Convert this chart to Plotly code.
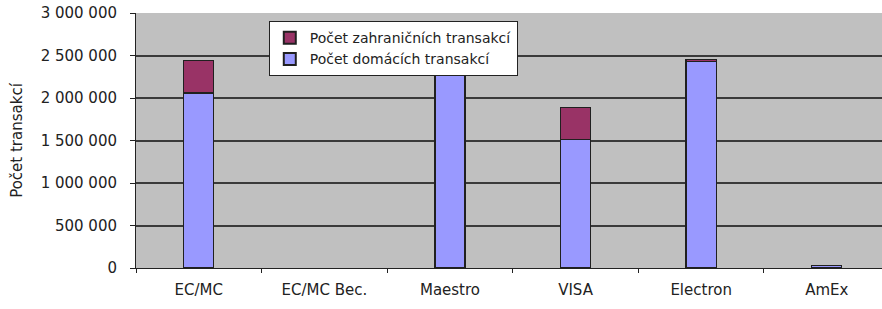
import plotly.graph_objects as go

categories = ["EC/MC", "EC/MC Bec.", "Maestro", "VISA", "Electron", "AmEx"]
domestic = [2060000, None, 2500000, 1510000, 2430000, 25000]
foreign = [380000, None, None, 380000, 25000, None]
y_tick_vals = [0, 500000, 1000000, 1500000, 2000000, 2500000, 3000000]
y_tick_text = ["0", "500 000", "1 000 000", "1 500 000", "2 000 000", "2 500 000", "3 000 000"]
name_domestic = "Počet domácích transakcí"
name_foreign = "Počet zahraničních transakcí"

FONT = "DejaVu Sans, Verdana, sans-serif"

fig = go.Figure()
fig.add_trace(go.Bar(x=categories, y=domestic, name=name_domestic,
                     marker=dict(color="#9999FF", line=dict(color="#202020", width=1.2))))
fig.add_trace(go.Bar(x=categories, y=foreign, name=name_foreign,
                     marker=dict(color="#993366", line=dict(color="#202020", width=1.2))))

fig.update_layout(
    width=882, height=309,
    barmode="stack", bargap=0.76,
    paper_bgcolor="white", plot_bgcolor="#C0C0C0",
    margin=dict(l=136, r=0, t=13, b=41, autoexpand=False),
    font=dict(family=FONT, size=15, color="#222"),
    showlegend=True,
    legend=dict(x=0.178, y=0.968, xanchor="left", yanchor="top",
                bgcolor="white", bordercolor="#222", borderwidth=1,
                traceorder="reversed", font=dict(size=14),
                itemsizing="constant", tracegroupgap=0),
)
fig.update_xaxes(range=[-0.5, 5.44], showline=True, linecolor="#222", linewidth=1,
                 ticks="outside", tickson="boundaries", ticklen=4, tickcolor="#222",
                 showgrid=False, tickfont=dict(size=15), ticklabelstandoff=8,
                 automargin=False)
fig.update_yaxes(range=[0, 3000000], tickvals=y_tick_vals, ticktext=y_tick_text,
                 showline=True, linecolor="#222", linewidth=1,
                 ticks="outside", ticklen=5, tickcolor="#222",
                 showgrid=True, gridcolor="#3a3a3a", gridwidth=2,
                 zeroline=False, tickfont=dict(size=15), ticklabelstandoff=10,
                 ticklabeloverflow="allow", automargin=False,
                 title=dict(text="Počet transakcí", font=dict(size=15), standoff=14))

fig.write_html("out.html", config={"displayModeBar": False},
               post_script="document.body.style.margin='0';document.body.style.overflow='hidden';")
